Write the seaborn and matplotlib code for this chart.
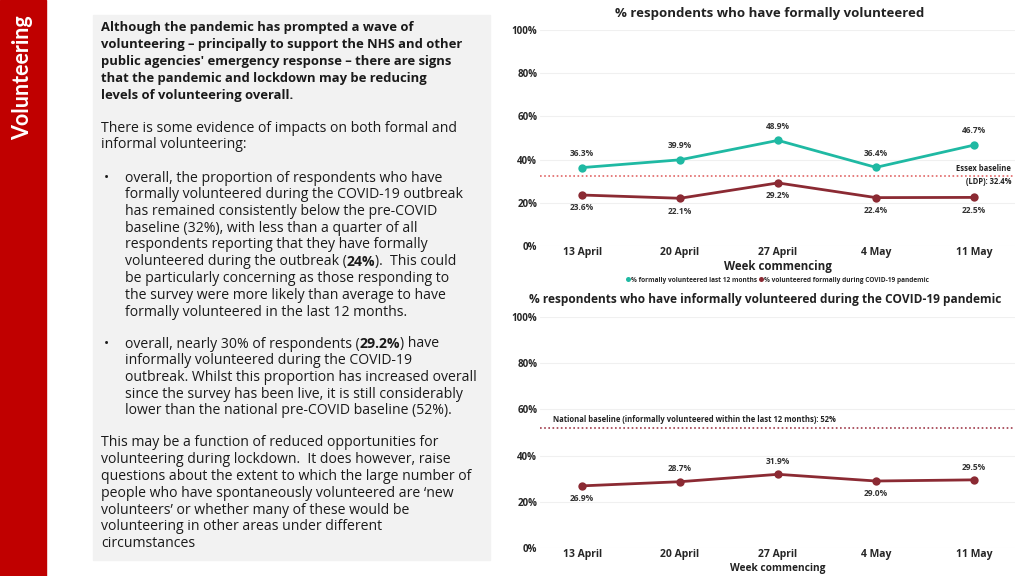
import numpy as np
import matplotlib
matplotlib.use("Agg")
import matplotlib.pyplot as plt
import pandas as pd
import seaborn as sns
from matplotlib.patches import Rectangle

sns.set_theme(style="white")
plt.rcParams['font.family'] = ['Open Sans', 'DejaVu Sans']

# data
weeks = ["13 April", "20 April", "27 April", "4 May", "11 May"]
formal_12m = [36.3, 39.9, 48.9, 36.4, 46.7]
formal_covid = [23.6, 22.1, 29.2, 22.4, 22.5]
informal_covid = [26.9, 28.7, 31.9, 29.0, 29.5]
essex_baseline = 32.4
national_baseline = 52
yticks = [0, 20, 40, 60, 80, 100]

TEAL = "#1fb9a3"
MAROON = "#8b2a33"
SIDEBAR = "#c00000"

fig = plt.figure(figsize=(10.24, 5.76), dpi=100)
W, H = 1024, 576

def fx(px):
    return px / W

def fy(py):
    return 1 - py / H

# red sidebar
fig.patches.append(Rectangle((0, 0), fx(46), 1, transform=fig.transFigure,
                             color=SIDEBAR, zorder=0))
fig.text(fx(23), fy(78), "Volunteering", rotation=90, color="white",
         fontsize=15.5, fontweight="bold", ha="center", va="center",
         family=["Lato", "DejaVu Sans"])

# grey text box
fig.patches.append(Rectangle((fx(93), fy(560)), fx(490 - 93), (560 - 15) / H,
                             transform=fig.transFigure, color="#f2f2f2", zorder=0))

TXT = "#1a1a1a"
fs = 10.1
x0, xb = 101, 125
lh = 16.75

bold_lines = ["Although the pandemic has prompted a wave of",
              "volunteering – principally to support the NHS and other",
              "public agencies' emergency response – there are signs",
              "that the pandemic and lockdown may be reducing",
              "levels of volunteering overall."]
intro = ["There is some evidence of impacts on both formal and",
         "informal volunteering:"]
bullet1 = ["overall, the proportion of respondents who have",
           "formally volunteered during the COVID-19 outbreak",
           "has remained consistently below the pre-COVID",
           "baseline (32%), with less than a quarter of all",
           "respondents reporting that they have formally",
           [("volunteered during the outbreak (", "normal"), ("24%", "bold"),
            (").  This could", "normal")],
           "be particularly concerning as those responding to",
           "the survey were more likely than average to have",
           "formally volunteered in the last 12 months."]
bullet2 = [[("overall, nearly 30% of respondents (", "normal"), ("29.2%", "bold"),
            (") have", "normal")],
           "informally volunteered during the COVID-19",
           "outbreak. Whilst this proportion has increased overall",
           "since the survey has been live, it is still considerably",
           "lower than the national pre-COVID baseline (52%)."]
closing = ["This may be a function of reduced opportunities for",
           "volunteering during lockdown.  It does however, raise",
           "questions about the extent to which the large number of",
           "people who have spontaneously volunteered are \u2018new",
           "volunteers\u2019 or whether many of these would be",
           "volunteering in other areas under different",
           "circumstances"]

renderer = fig.canvas.get_renderer()

def put_line(x, y, line, weight="normal", size=fs):
    if isinstance(line, str):
        fig.text(fx(x), fy(y), line, fontsize=size, fontweight=weight,
                 color=TXT, va="center", ha="left")
        return
    cx = x
    for part, w in line:
        t = fig.text(fx(cx), fy(y), part, fontsize=size, fontweight=w,
                     color=TXT, va="center", ha="left")
        bb = t.get_window_extent(renderer=renderer)
        cx += bb.width

for i, line in enumerate(bold_lines):
    put_line(x0, 28 + i * lh, line, "bold", size=9.4)
for i, line in enumerate(intro):
    put_line(x0, 128 + i * lh, line)
fig.text(fx(104), fy(178), "•", fontsize=fs, color=TXT, va="center")
for i, line in enumerate(bullet1):
    put_line(xb, 178 + i * lh, line)
fig.text(fx(104), fy(344), "•", fontsize=fs, color=TXT, va="center")
for i, line in enumerate(bullet2):
    put_line(xb, 344 + i * lh, line)
for i, line in enumerate(closing):
    put_line(x0, 443 + i * lh, line)

# ---- top chart: formal volunteering
ax1 = fig.add_axes([fx(540), fy(246), fx(1015 - 540), (246 - 30) / H])
df1 = pd.DataFrame({"week": weeks * 2,
                    "pct": formal_12m + formal_covid,
                    "series": ["% formally volunteered last 12 months"] * 5
                              + ["% volunteered formally during COVID-19 pandemic"] * 5})
df1["x"] = list(range(len(weeks))) * 2
sns.lineplot(data=df1, x="x", y="pct", hue="series", palette=[TEAL, MAROON],
             marker="o", markersize=6, markeredgewidth=0, linewidth=2, ax=ax1)
ax1.axhline(essex_baseline, color="#e06666", linestyle=(0, (1, 1.5)), linewidth=1.2)
for i, v in enumerate(formal_12m):
    ax1.annotate(f"{v:.1f}%", (i, v), xytext=(0, 7), textcoords="offset points",
                 ha="center", va="bottom", fontsize=6, fontweight="bold", color="#333333")
for i, v in enumerate(formal_covid):
    ax1.annotate(f"{v:.1f}%", (i, v), xytext=(0, -6), textcoords="offset points",
                 ha="center", va="top", fontsize=6, fontweight="bold", color="#333333")
ax1.text(4.38, essex_baseline + 1.2, "Essex baseline", ha="right", va="bottom",
         fontsize=5.5, fontweight="bold", color="#222222")
ax1.text(4.38, essex_baseline - 0.6, f"(LDP): {essex_baseline}%", ha="right", va="top",
         fontsize=5.5, fontweight="bold", color="#222222")
fig.text(fx(770), fy(14), "% respondents who have formally volunteered", fontsize=9.5,
         fontweight="bold", color="#222222", ha="center", va="center")
leg = ax1.legend(loc="upper center", bbox_to_anchor=(0.5, -0.115), ncol=2, frameon=False,
                 handlelength=0.5, handletextpad=0.2, columnspacing=0.4,
                 markerscale=0.6, prop={"weight": "bold", "size": 4.7})
for h in leg.get_lines():
    h.set_linewidth(0)

# ---- bottom chart: informal volunteering
ax2 = fig.add_axes([fx(540), fy(548), fx(1015 - 540), (548 - 317) / H])
df2 = pd.DataFrame({"x": range(len(weeks)), "pct": informal_covid})
sns.lineplot(data=df2, x="x", y="pct", color=MAROON, marker="o", markersize=6,
             markeredgewidth=0, linewidth=2, ax=ax2)
ax2.axhline(national_baseline, color="#a03a4a", linestyle=(0, (1, 1.5)), linewidth=1.2)
ax2.text(-0.3, national_baseline + 1.8,
         "National baseline (informally volunteered within the last 12 months): 52%",
         fontsize=5.5, fontweight="bold", color="#222222", ha="left", va="bottom")
below = [True, False, False, True, False]
for i, v in enumerate(informal_covid):
    off, va = ((0, -6), "top") if below[i] else ((0, 6), "bottom")
    ax2.annotate(f"{v:.1f}%", (i, v), xytext=off, textcoords="offset points",
                 ha="center", va=va, fontsize=6, fontweight="bold", color="#333333")
fig.text(fx(765), fy(300),
         "% respondents who have informally volunteered during the COVID-19 pandemic",
         fontsize=8.6, fontweight="bold", color="#222222", ha="center", va="center")

for ax, xl_size, lp in ((ax1, 8.3, 1), (ax2, 7.3, 2)):
    ax.set_ylim(0, 100)
    ax.set_xlim(-0.43, 4.42)
    ax.set_yticks(yticks)
    ax.set_yticklabels([f"{t}%" for t in yticks], fontsize=7, fontweight="bold")
    ax.set_xticks(range(len(weeks)))
    ax.set_xticklabels(weeks, fontsize=7.5, fontweight="bold")
    ax.tick_params(axis="both", length=0, pad=2)
    ax.tick_params(axis="x", pad=1)
    ax.grid(axis="y", color="#f0f0f0", linewidth=0.8)
    ax.set_ylabel("")
    ax.set_xlabel("Week commencing", fontsize=xl_size, fontweight="bold", labelpad=lp,
                  color="#222222")
    for s in ax.spines.values():
        s.set_visible(False)
    ax.set_facecolor("none")

fig.savefig("out.png", dpi=100)
